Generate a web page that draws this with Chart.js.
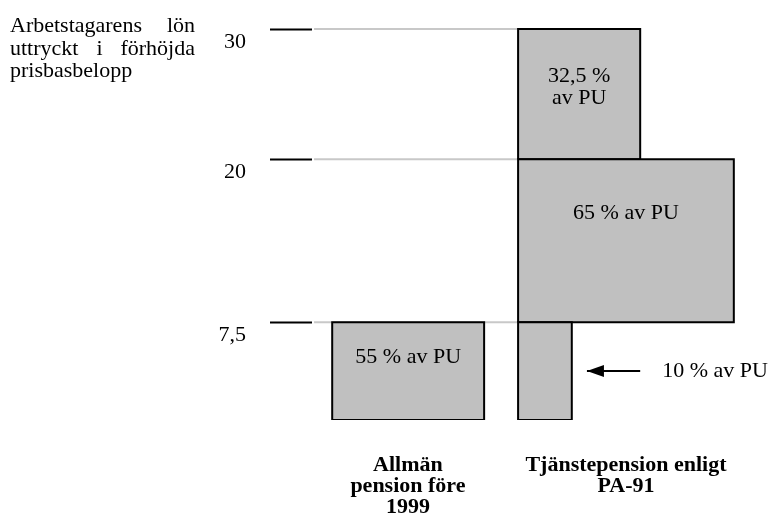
<!DOCTYPE html>
<html><head><meta charset="utf-8">
<script src="https://cdn.jsdelivr.net/npm/chart.js@4.4.1/dist/chart.umd.min.js"></script>
<style>html,body{margin:0;padding:0;background:#fff}#wrap{position:relative;width:771px;height:517px}</style>
</head><body><div id="wrap"><canvas id="c"></canvas></div>
<script>
// Levels of the worker's salary (förhöjda prisbasbelopp)
const levelValues = [7.5, 20, 30];
const levelLabels = ['7,5', '20', '30'];
// Categories on the horizontal axis
const categories = [['Allmän', 'pension före', '1999'], ['Tjänstepension enligt', 'PA-91']];
const categoryPos = [20.9, 68.4];
// Pension boxes: salary band (low-high) and schematic horizontal extent
const boxLow   = [0, 0, 7.5, 20];
const boxHigh  = [7.5, 7.5, 20, 30];
const boxLeft  = [4.4, 44.9, 44.9, 44.9];
const boxRight = [37.5, 56.6, 91.9, 71.5];
const boxText  = [['55 % av PU'], [], ['65 % av PU'], ['32,5 %', 'av PU']];
const boxTextY = [4.83, null, 15.9, 25.5];
// Guide lines from the axis to the boxes
const guideFrom = 0.45, guideTo = 44.9;
// Arrow pointing at the narrow box
const arrowFrom = 71.5, arrowTo = 59.9, arrowY = 3.76;
const arrowLabel = '10 % av PU', arrowLabelX = 76.3;
// Axis caption (justified lines)
const titleLines = [['Arbetstagarens', 'lön'], ['uttryckt', 'i', 'förhöjda'], ['prisbasbelopp']];

const SERIF = "'Liberation Serif', 'Times New Roman', serif";
Chart.defaults.font.family = SERIF;
Chart.defaults.color = '#000';

const datasets = [];
boxLow.forEach((lo, i) => {
  const hi = boxHigh[i], L = boxLeft[i], R = boxRight[i];
  datasets.push({
    data: [{x: L, y: lo}, {x: R, y: lo}, {x: R, y: hi}, {x: L, y: hi}, {x: L, y: lo}],
    borderColor: '#000', borderWidth: 2, backgroundColor: '#c0c0c0',
    fill: 'shape', pointRadius: 0, tension: 0, borderJoinStyle: 'miter'
  });
});
datasets.push({
  data: [{x: arrowFrom, y: arrowY}, {x: arrowTo, y: arrowY}],
  borderColor: '#000', borderWidth: 2, pointRadius: 0, fill: false
});
levelValues.forEach(v => {
  datasets.push({
    data: [{x: guideFrom, y: v}, {x: guideTo, y: v}],
    borderColor: '#c8c8c8', borderWidth: 2, pointRadius: 0, fill: false
  });
});

const annot = {
  id: 'annot',
  afterDatasetsDraw(chart) {
    const {ctx, scales: {x, y}} = chart;
    ctx.save();
    ctx.fillStyle = '#000';
    ctx.font = '22px ' + SERIF;
    ctx.textAlign = 'center';
    ctx.textBaseline = 'middle';
    boxText.forEach((lines, i) => {
      if (!lines.length) return;
      const cx = x.getPixelForValue((boxLeft[i] + boxRight[i]) / 2);
      const cy = y.getPixelForValue(boxTextY[i]);
      const lh = 22;
      lines.forEach((t, k) => ctx.fillText(t, cx, cy + (k - (lines.length - 1) / 2) * lh));
    });
    // arrow head
    const tx = x.getPixelForValue(arrowTo), ty = y.getPixelForValue(arrowY);
    ctx.beginPath();
    ctx.moveTo(tx, ty);
    ctx.lineTo(tx + 17, ty - 6);
    ctx.lineTo(tx + 17, ty + 6);
    ctx.closePath();
    ctx.fill();
    ctx.textAlign = 'left';
    ctx.fillText(arrowLabel, x.getPixelForValue(arrowLabelX), ty);
    ctx.restore();
  },
  afterDraw(chart) {
    const ctx = chart.ctx;
    ctx.save();
    ctx.fillStyle = '#000';
    ctx.font = '22px ' + SERIF;
    ctx.textBaseline = 'alphabetic';
    ctx.textAlign = 'left';
    const x0 = 10, x1 = 195, base = [32, 54.5, 77];
    titleLines.forEach((words, li) => {
      if (words.length === 1) { ctx.fillText(words[0], x0, base[li]); return; }
      const widths = words.map(w => ctx.measureText(w).width);
      const gap = (x1 - x0 - widths.reduce((a, b) => a + b, 0)) / (words.length - 1);
      let cx = x0;
      words.forEach((w, k) => { ctx.fillText(w, cx, base[li]); cx += widths[k] + gap; });
    });
    ctx.restore();
  }
};

new Chart(document.getElementById('c'), {
  type: 'line',
  data: {datasets},
  options: {
    responsive: true, maintainAspectRatio: false, animation: false,
    layout: {padding: {top: 16, left: 0, right: 0, bottom: 0}},
    plugins: {legend: {display: false}, tooltip: {enabled: false}},
    scales: {
      x: {
        type: 'linear', min: 0, max: 100, position: 'bottom',
        grid: {display: false, drawTicks: false}, border: {display: false},
        afterBuildTicks: s => { s.ticks = categoryPos.map(v => ({value: v})); },
        afterFit: s => { s.height = 97; s.paddingLeft = 0; s.paddingRight = 0; },
        ticks: {
          autoSkip: false, maxRotation: 0, minRotation: 0, padding: 35, color: '#000',
          font: {family: SERIF, size: 22, weight: 'bold', lineHeight: 0.955},
          callback: (v, i) => categories[i]
        }
      },
      y: {
        type: 'linear', min: 0, max: 31,
        grid: {drawOnChartArea: false, drawTicks: true, tickLength: 42, tickColor: '#000', tickWidth: 2},
        border: {display: false},
        afterBuildTicks: s => { s.ticks = levelValues.map(v => ({value: v})); },
        afterFit: s => { s.width = 312; s.paddingTop = 0; s.paddingBottom = 0; },
        ticks: {
          padding: 24, labelOffset: 13, color: '#000',
          font: {family: SERIF, size: 22},
          callback: (v, i) => levelLabels[i]
        }
      }
    }
  },
  plugins: [annot]
});
</script>
</body></html>
